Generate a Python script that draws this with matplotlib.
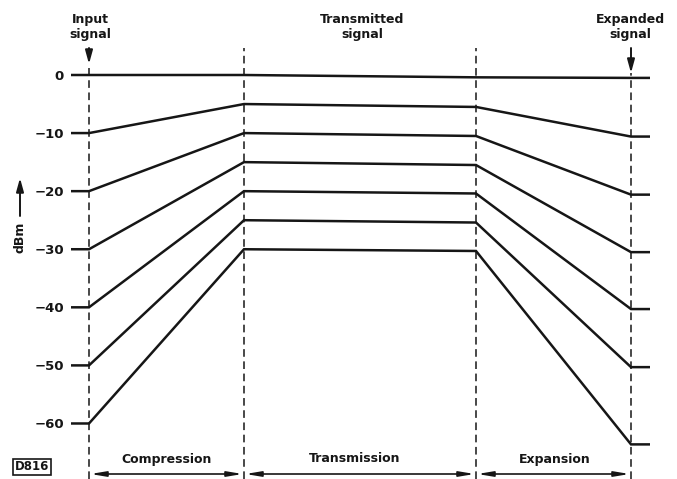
import matplotlib.pyplot as plt

# signal levels (dBm) through the compander chain
input_levels = [0, -10, -20, -30, -40, -50, -60]
transmitted_start = [0, -5, -10, -15, -20, -25, -30]
transmitted_end = [-0.4, -5.5, -10.5, -15.5, -20.4, -25.4, -30.3]
expanded_levels = [-0.5, -10.6, -20.6, -30.5, -40.3, -50.3, -63.6]

tick_levels = [0, -10, -20, -30, -40, -50, -60]
tick_labels = ['0', '\u221210', '\u221220', '\u221230', '\u221240', '\u221250', '\u221260']

# horizontal stages: stub start, input, compressor out, link end, expander out, stub end
stage_x = [71, 89, 244, 476, 631, 650]
phases = ['Compression', 'Transmission', 'Expansion']

W, H = 677, 479
ink = '#161616'

fig = plt.figure(figsize=(W / 100, H / 100), dpi=100)
ax = fig.add_axes([71 / W, 0, (W - 71) / W, 1])
ax.set_xlim(71, W)
ax.set_ylim(-(H - 75) / 5.808, 75 / 5.808)
for s in ax.spines.values():
    s.set_visible(False)
ax.set_xticks([])
ax.set_yticks(tick_levels, tick_labels)
ax.tick_params(axis='y', length=0, pad=5, labelsize=9.5, colors=ink)
for t in ax.get_yticklabels():
    t.set_fontweight('bold')

for a, b, c, d in zip(input_levels, transmitted_start, transmitted_end, expanded_levels):
    ys = [a, a, b, c, d, d]
    ax.plot(stage_x, ys, color=ink, lw=1.8, solid_joinstyle='miter', solid_capstyle='butt')

# dashed stage boundaries
tops = [1 - 65 / H, 1 - 48 / H, 1 - 48 / H, 1 - 73 / H]
for x, top in zip(stage_x[1:5], tops):
    ax.axvline(x, 0, top, color=ink, lw=1.1, ls=(0, (5, 3)))

# signal markers at input and output
tr = ax.get_xaxis_transform()
for x, y0, y1 in [(89, 48, 64), (631, 48, 73)]:
    ax.annotate('', xy=(x, 1 - y1 / H), xytext=(x, 1 - y0 / H), xycoords=tr, textcoords=tr,
                arrowprops=dict(arrowstyle='-|>,head_width=0.22,head_length=0.8', lw=1.4,
                                color=ink, shrinkA=0, shrinkB=0))

# phase spans along the bottom
ya = 1 - 474 / H
for (x0, x1), name, cx in zip(zip(stage_x[1:4], stage_x[2:5]), phases, [167, 355, 555]):
    ax.annotate('', xy=(x1, ya), xytext=(x0, ya), xycoords=tr, textcoords=tr,
                arrowprops=dict(arrowstyle='<|-|>,head_width=0.15,head_length=0.9', lw=1.2,
                                color=ink, shrinkA=1, shrinkB=1))
    fig.text(cx / W, 1 - 459 / H, name, ha='center', va='center', fontsize=9,
             fontweight='bold', color=ink)

top_labels = [('Input\nsignal', 90), ('Transmitted\nsignal', 362), ('Expanded\nsignal', 630)]
for txt, cx in top_labels:
    fig.text(cx / W, 1 - 27 / H, txt, ha='center', va='center', fontsize=9,
             fontweight='bold', color=ink, linespacing=1.25)

# y axis caption with upward arrow
fig.text(20 / W, 1 - 237 / H, 'dBm', rotation=90, ha='center', va='center',
         fontsize=9, fontweight='bold', color=ink)
ax.annotate('', xy=(20 / W, 1 - 178 / H), xytext=(20 / W, 1 - 216 / H),
            xycoords='figure fraction', textcoords='figure fraction',
            arrowprops=dict(arrowstyle='-|>,head_width=0.22,head_length=0.8', lw=1.4,
                            color=ink, shrinkA=0, shrinkB=0))

fig.text(32 / W, 1 - 467 / H, 'D816', ha='center', va='center', fontsize=8.5,
         fontweight='bold', color=ink,
         bbox=dict(boxstyle='square,pad=0.15', fc='white', ec=ink, lw=1.2))

fig.savefig('out.png', dpi=100, facecolor='white')
